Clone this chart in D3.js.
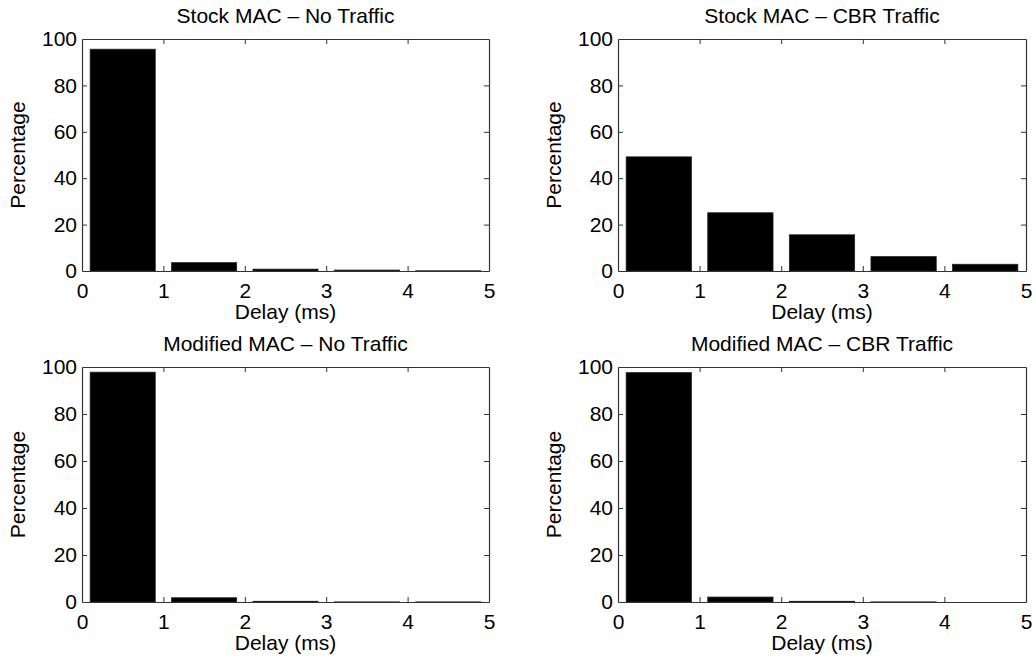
<!DOCTYPE html>
<meta charset="utf-8">
<script src="https://cdnjs.cloudflare.com/ajax/libs/d3/7.8.5/d3.min.js"></script>
<style>
  body { margin: 0; background: #fff; }
  text { font-family: "Liberation Sans", Arial, Helvetica, sans-serif; fill: #000; }
</style>
<div id="chart"></div>
<script>

    // histogram bins (bar centres, ms) and tick values
    const binCenters = [0.5, 1.5, 2.5, 3.5, 4.5];
    const binWidth = 0.8;
    const xTicks = [0, 1, 2, 3, 4, 5];
    const yTicks = [0, 20, 40, 60, 80, 100];

    // percentage of packets in each delay bin
    const stockNoTraffic = [95.6, 3.6, 0.8, 0.4, 0.1];
    const stockCBR = [49.2, 25.1, 15.6, 6.2, 2.9];
    const modNoTraffic = [97.8, 1.8, 0.3, 0.05, 0.05];
    const modCBR = [97.6, 2.1, 0.3, 0.05, 0.0];

    const titles = [
        "Stock MAC \u2013 No Traffic",
        "Stock MAC \u2013 CBR Traffic",
        "Modified MAC \u2013 No Traffic",
        "Modified MAC \u2013 CBR Traffic"
    ];
    const series = [stockNoTraffic, stockCBR, modNoTraffic, modCBR];

    var W = 1036, H = 662;
    var fontSize = "21px";
    var svg = d3.select("#chart").append("svg")
        .attr("width", W)
        .attr("height", H);

    // axes boxes for each panel (pixel positions of the plot area)
    var boxes = [
        { x: 82, y: 39, w: 407, h: 232 },
        { x: 618, y: 39, w: 408, h: 232 },
        { x: 82, y: 367, w: 407, h: 235 },
        { x: 618, y: 367, w: 408, h: 235 }
    ];

    boxes.forEach(function (b, i) {
        drawPanel(b, titles[i], series[i]);
    });

    function drawPanel(b, title, values) {
        var g = svg.append("g")
            .attr("transform", "translate(" + b.x + "," + b.y + ")");

        var x = d3.scaleLinear().domain([0, 5]).range([0, b.w]);
        var y = d3.scaleLinear().domain([0, 100]).range([b.h, 0]);

        // bars
        g.selectAll("rect")
            .data(values)
            .join("rect")
            .attr("x", function (d, i) { return x(binCenters[i] - binWidth / 2); })
            .attr("width", function () { return x(binWidth) - x(0); })
            .attr("y", function (d) { return y(d); })
            .attr("height", function (d) { return y(0) - y(d); })
            .attr("fill", "#000")
            .attr("stroke", "#222")
            .attr("stroke-width", 0.8);

        // axes on all four sides, ticks pointing in
        var fmt = d3.format("d");
        var bottom = g.append("g")
            .attr("transform", "translate(0," + b.h + ")")
            .call(d3.axisBottom(x).tickValues(xTicks).tickFormat(fmt).tickSizeInner(-5).tickSizeOuter(0).tickPadding(12));
        var left = g.append("g")
            .call(d3.axisLeft(y).tickValues(yTicks).tickFormat(fmt).tickSizeInner(-5).tickSizeOuter(0).tickPadding(5));
        var top = g.append("g")
            .call(d3.axisTop(x).tickValues(xTicks).tickSizeInner(-5).tickSizeOuter(0).tickFormat(""));
        var right = g.append("g")
            .attr("transform", "translate(" + b.w + ",0)")
            .call(d3.axisRight(y).tickValues(yTicks).tickSizeInner(-5).tickSizeOuter(0).tickFormat(""));

        [bottom, left, top, right].forEach(function (a) {
            a.select(".domain").attr("stroke", "#333").attr("stroke-width", 1.2);
            a.selectAll(".tick line").attr("stroke", "#333");
            a.selectAll(".tick text")
                .style("font-size", fontSize)
                .style("font-family", "'Liberation Sans', Arial, sans-serif")
                .attr("fill", "#000");
        });
        // drop the ticks that sit on the box corners
        [bottom, top].forEach(function (a) {
            a.selectAll(".tick line").filter(function (d) { return d === 0 || d === 5; }).remove();
        });
        [left, right].forEach(function (a) {
            a.selectAll(".tick line").filter(function (d) { return d === 0 || d === 100; }).remove();
        });

        // title
        g.append("text")
            .attr("x", b.w / 2)
            .attr("y", -16)
            .attr("text-anchor", "middle")
            .style("font-size", fontSize)
            .text(title);

        // x label
        g.append("text")
            .attr("x", b.w / 2)
            .attr("y", b.h + 48)
            .attr("text-anchor", "middle")
            .style("font-size", fontSize)
            .text("Delay (ms)");

        // y label
        g.append("text")
            .attr("transform", "translate(-57," + (b.h / 2) + ") rotate(-90)")
            .attr("text-anchor", "middle")
            .style("font-size", fontSize)
            .text("Percentage");
    }

</script>
